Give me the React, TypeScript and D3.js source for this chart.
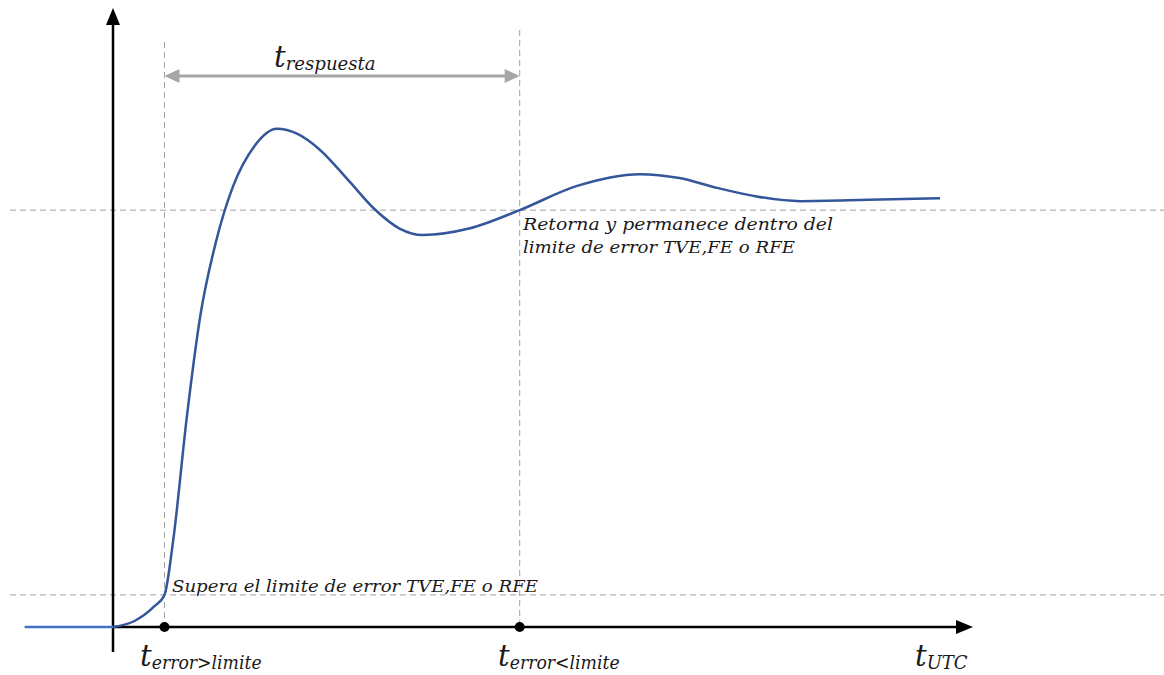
import React from "react";
import * as d3 from "d3";

// Step response of a measured quantity (normalised: 100 = steady state)
const responseT = [0, 2.5, 4.8, 6.0, 7.0, 8.6, 10.2, 12.0, 14.0, 16.5, 19.1, 21.5, 24, 27.6, 30.5, 33.4, 36.1, 41.5, 47.4, 54, 61.4, 66, 70.4, 75, 80.1, 88, 96.4];
const responseY = [0, 1.4, 4.8, 7.5, 20, 49, 73, 90, 103, 112.4, 116.4, 115.2, 111.7, 104.0, 97.6, 93.1, 91.6, 93.1, 97.4, 103.0, 105.8, 104.9, 102.6, 100.6, 99.5, 99.8, 100.2];

// Signal before the time origin (flat)
const preT = [-10.3, 0];
const preY = [0, 0];

// Error limits (TVE, FE or RFE)
const limitUpper = 97.4;
const limitLower = 7.5;

// Instants of interest
const tExceed = 6.0;
const tReturn = 47.4;

const W = 1164;
const H = 675;

const x = d3.scaleLinear().domain([0, 100]).range([113, 971]);
const y = d3.scaleLinear().domain([0, 100]).range([627, 199]);

const FONT = "'DejaVu Serif', serif";

function TLabel({ px, py, sub, subLen }: { px: number; py: number; sub: string; subLen?: number }) {
  return (
    <text x={px} y={py} fontFamily={FONT} fontStyle="italic" fill="#1a1a1a">
      <tspan fontSize={29}>t</tspan>
      <tspan fontSize={18} dy={3} textLength={subLen} lengthAdjust={subLen ? "spacingAndGlyphs" : undefined}>{sub}</tspan>
    </text>
  );
}

export default function App() {
  const pts = responseT.map((t, i) => [x(t), y(responseY[i])] as [number, number]);
  const pre = preT.map((t, i) => [x(t), y(preY[i])] as [number, number]);
  const line = d3.line().curve(d3.curveMonotoneX);
  const x0 = x(0);
  const y0 = y(0);
  const xA = x(tExceed);
  const xB = x(tReturn);
  const grey = "#a6a6a6";
  const dash = "#a0a0a0";
  const arrowY = 76;
  const note = { fontFamily: FONT, fontStyle: "italic", fontSize: 16.5, fill: "#1a1a1a" } as const;

  return (
    <svg width={W} height={H} style={{ position: "absolute", left: 0, top: 0, background: "#fff" }}>
      {/* limit lines */}
      {[limitUpper, limitLower].map((v) => (
        <line key={v} x1={10} x2={W} y1={y(v)} y2={y(v)} stroke={dash} strokeWidth={1} strokeDasharray="6,4" />
      ))}
      {/* vertical markers */}
      <line x1={xA} x2={xA} y1={42} y2={y0} stroke={dash} strokeWidth={1} strokeDasharray="6,4" />
      <line x1={xB} x2={xB} y1={30} y2={y0} stroke={dash} strokeWidth={1} strokeDasharray="6,4" />

      {/* response-time arrow */}
      <line x1={xA + 12} x2={xB - 12} y1={arrowY} y2={arrowY} stroke={grey} strokeWidth={3} />
      <path d={`M${xA},${arrowY} L${xA + 15},${arrowY - 7} L${xA + 15},${arrowY + 7} Z`} fill={grey} />
      <path d={`M${xB},${arrowY} L${xB - 15},${arrowY - 7} L${xB - 15},${arrowY + 7} Z`} fill={grey} />
      <TLabel px={274} py={67} sub="respuesta" subLen={90} />

      {/* axes */}
      <line x1={x0} x2={x0} y1={652} y2={20} stroke="#000" strokeWidth={2.5} />
      <path d={`M${x0},8 L${x0 - 7},25 L${x0 + 7},25 Z`} fill="#000" />
      <line x1={x0} x2={958} y1={y0} y2={y0} stroke="#000" strokeWidth={2.5} />
      <path d={`M973,${y0} L956,${y0 - 7} L956,${y0 + 7} Z`} fill="#000" />

      {/* signal */}
      <path d={line(pre) || ""} fill="none" stroke="#4472c4" strokeWidth={2.5} />
      <path d={line(pts) || ""} fill="none" stroke="#34569a" strokeWidth={2.5} strokeLinejoin="round" />

      {/* instants */}
      <circle cx={xA} cy={y0} r={5} fill="#000" />
      <circle cx={xB} cy={y0} r={5} fill="#000" />

      {/* annotations */}
      <text x={523} y={230} {...note} textLength={310} lengthAdjust="spacingAndGlyphs">
        Retorna y permanece dentro del
      </text>
      <text x={523} y={253} {...note} textLength={272} lengthAdjust="spacingAndGlyphs">
        limite de error TVE,FE o RFE
      </text>
      <text x={172} y={592} {...note} textLength={366} lengthAdjust="spacingAndGlyphs">
        Supera el limite de error TVE,FE o RFE
      </text>

      <TLabel px={140} py={666} sub={"error>limite"} subLen={110} />
      <TLabel px={498} py={666} sub={"error<limite"} subLen={110} />
      <TLabel px={915} py={666} sub="UTC" />
    </svg>
  );
}
